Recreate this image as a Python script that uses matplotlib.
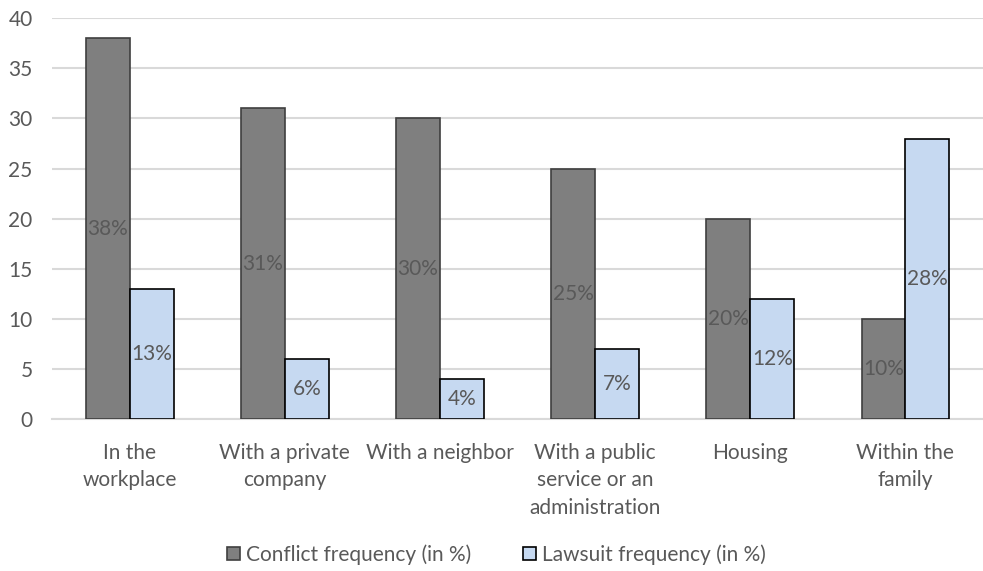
import numpy as np
import matplotlib
matplotlib.use("Agg")
import matplotlib.pyplot as plt

plt.rcParams['font.family'] = ['Lato', 'DejaVu Sans']

# data
categories = ["In the\nworkplace", "With a private\ncompany", "With a neighbor",
              "With a public\nservice or an\nadministration", "Housing", "Within the\nfamily"]
conflict = [38, 31, 30, 25, 20, 10]
lawsuit = [13, 6, 4, 7, 12, 28]

fig = plt.figure(figsize=(9.83, 5.71), dpi=100)
ax = fig.add_axes([0.053, 0.266, 0.947, 0.702])

x = np.arange(len(categories))
w = 0.283
b1 = ax.bar(x - w/2, conflict, w, color='#7f7f7f', edgecolor='#3f3f3f', linewidth=1.2,
            label='Conflict frequency (in %)', zorder=3)
b2 = ax.bar(x + w/2, lawsuit, w, color='#c6d9f1', edgecolor='black', linewidth=1.2,
            label='Lawsuit frequency (in %)', zorder=3)

# labels in the middle of bars
for bars, vals in ((b1, conflict), (b2, lawsuit)):
    for r, v in zip(bars, vals):
        ax.text(r.get_x() + r.get_width()/2, v/2, str(v) + '%', ha='center', va='center',
                fontsize=15, color='#595959', zorder=4)

ax.set_ylim(0, 40)
ax.set_xlim(-0.5, 5.5)
ax.set_yticks(range(0, 41, 5))
ax.set_xticks(x)
ax.set_xticklabels(categories, linespacing=1.48)
ax.tick_params(axis='both', length=0, labelsize=15, colors='#595959')
ax.tick_params(axis='x', pad=17)
ax.tick_params(axis='y', pad=14)
ax.grid(axis='y', color='#d9d9d9', linewidth=1.5, zorder=0)
for s in ['top', 'right', 'left']:
    ax.spines[s].set_visible(False)
ax.spines['bottom'].set_color('#d9d9d9')
ax.spines['bottom'].set_linewidth(1.5)

fig.legend(loc='center', bbox_to_anchor=(0.505, 0.029), ncol=2, frameon=False,
           fontsize=15, labelcolor='#595959', handlelength=0.6, handleheight=0.6,
           handletextpad=0.3, columnspacing=2.5)

plt.savefig('out.png', dpi=100)
